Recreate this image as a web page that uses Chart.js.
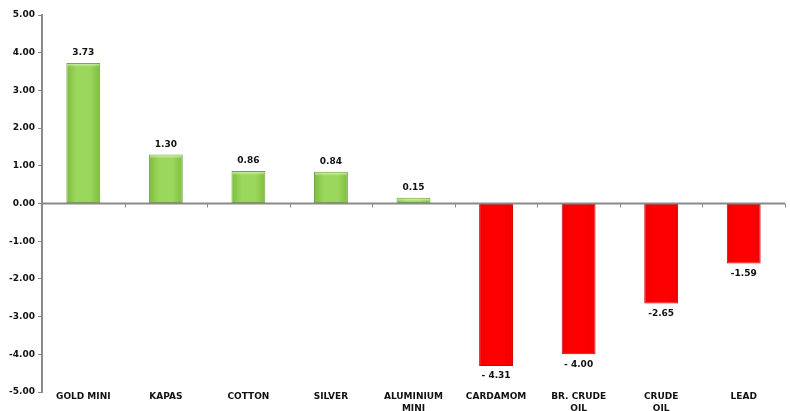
<!DOCTYPE html>
<html>
<head>
<meta charset="utf-8">
<script src="https://cdn.jsdelivr.net/npm/chart.js@4/dist/chart.umd.min.js"></script>
<style>
  html, body { margin: 0; padding: 0; background: #ffffff; }
  #wrap { width: 790px; height: 411px; position: relative; }
</style>
</head>
<body>
<div id="wrap"><canvas id="chart"></canvas></div>
<script>
// Commodity price change (%)
const categories = [
  'GOLD MINI', 'KAPAS', 'COTTON', 'SILVER', ['ALUMINIUM', 'MINI'],
  'CARDAMOM', ['BR. CRUDE', 'OIL'], ['CRUDE', 'OIL'], 'LEAD'
];
const changes = [3.73, 1.30, 0.86, 0.84, 0.15, -4.31, -4.00, -2.65, -1.59];
const valueLabels = ['3.73', '1.30', '0.86', '0.84', '0.15', '- 4.31', '- 4.00', '-2.65', '-1.59'];
const yMin = -5;
const yMax = 5;

const FONT = { family: '"DejaVu Sans", sans-serif', size: 9, weight: 'bold' };
const AXIS_GREY = '#8a8a8a';
const BAR_PCT = 0.41;

function barGradient(c, up) {
  const flat = up ? '#92d050' : '#ff0000';
  const chart = c.chart;
  const x = chart.scales && chart.scales.x;
  if (!x || c.dataIndex === undefined) return flat;
  const w = (x.width / categories.length) * BAR_PCT;
  const cx = x.getPixelForValue(c.dataIndex);
  if (!isFinite(cx) || !isFinite(w) || w <= 0) return flat;
  const g = chart.ctx.createLinearGradient(cx - w / 2, 0, cx + w / 2, 0);
  if (up) {
    g.addColorStop(0, '#7dbd3f');
    g.addColorStop(0.3, '#9bd75c');
    g.addColorStop(0.7, '#9bd75c');
    g.addColorStop(1, '#7dbd3f');
  } else {
    g.addColorStop(0, '#f00000');
    g.addColorStop(0.3, '#ff0000');
    g.addColorStop(0.7, '#ff0000');
    g.addColorStop(1, '#f00000');
  }
  return g;
}

// Light band along the top edge of the rising bars
const barHighlight = {
  id: 'barHighlight',
  afterDatasetsDraw(chart) {
    const { ctx } = chart;
    const meta = chart.getDatasetMeta(0);
    ctx.save();
    meta.data.forEach((bar, i) => {
      if (changes[i] < 0) return;
      const h = Math.min(4, bar.base - bar.y - 1);
      if (h <= 0) return;
      const g = ctx.createLinearGradient(0, bar.y, 0, bar.y + h);
      g.addColorStop(0, 'rgba(230,250,200,0.9)');
      g.addColorStop(1, 'rgba(230,250,200,0)');
      ctx.fillStyle = g;
      ctx.fillRect(bar.x - bar.width / 2 + 1, bar.y + 1, bar.width - 2, h);
    });
    ctx.restore();
  }
};

// Zero baseline with small category-boundary ticks, drawn over the bars
const zeroAxis = {
  id: 'zeroAxis',
  afterDatasetsDraw(chart) {
    const { ctx, chartArea, scales: { x, y } } = chart;
    const y0 = y.getPixelForValue(0);
    const step = x.width / categories.length;
    ctx.save();
    ctx.strokeStyle = AXIS_GREY;
    ctx.lineWidth = 2;
    ctx.beginPath();
    ctx.moveTo(chartArea.left, y0);
    ctx.lineTo(chartArea.right, y0);
    ctx.stroke();
    ctx.lineWidth = 1;
    for (let i = 0; i < categories.length; i++) {
      const bx = Math.round(x.getPixelForValue(i) + step / 2) + 0.5;
      ctx.beginPath();
      ctx.moveTo(bx, y0);
      ctx.lineTo(bx, y0 + 4);
      ctx.stroke();
    }
    ctx.restore();
  }
};

// Value labels above positive bars and below negative bars
const valueLabelPlugin = {
  id: 'valueLabels',
  afterDatasetsDraw(chart) {
    const { ctx } = chart;
    const meta = chart.getDatasetMeta(0);
    ctx.save();
    ctx.font = 'bold 9px "DejaVu Sans", sans-serif';
    ctx.fillStyle = '#111111';
    ctx.textAlign = 'center';
    ctx.textBaseline = 'middle';
    meta.data.forEach((bar, i) => {
      const v = changes[i];
      const ty = v >= 0 ? bar.y - 10 : bar.y + 10;
      ctx.fillText(valueLabels[i], bar.x, ty);
    });
    ctx.restore();
  }
};

new Chart(document.getElementById('chart'), {
  type: 'bar',
  data: {
    labels: categories,
    datasets: [{
      data: changes,
      backgroundColor: c => barGradient(c, changes[c.dataIndex] >= 0),
      borderColor: c => changes[c.dataIndex] >= 0 ? '#6fa53a' : '#d40000',
      borderWidth: 1,
      borderSkipped: false,
      categoryPercentage: 1,
      barPercentage: BAR_PCT
    }]
  },
  options: {
    responsive: true,
    maintainAspectRatio: false,
    animation: false,
    devicePixelRatio: 1,
    layout: { padding: { top: 15, right: 5, left: 0, bottom: 0 } },
    plugins: {
      legend: { display: false },
      tooltip: { enabled: false }
    },
    scales: {
      x: {
        grid: { display: false, drawTicks: false },
        border: { display: false },
        ticks: {
          color: '#111111',
          font: { ...FONT, lineHeight: 1.33 },
          padding: -1,
          maxRotation: 0,
          autoSkip: false
        },
        afterFit(scale) { scale.height = 19; }
      },
      y: {
        min: yMin,
        max: yMax,
        ticks: {
          stepSize: 1,
          color: '#111111',
          font: FONT,
          padding: 3,
          callback: v => v.toFixed(2)
        },
        grid: {
          drawOnChartArea: false,
          drawTicks: true,
          tickLength: 4,
          tickColor: AXIS_GREY
        },
        border: { color: AXIS_GREY, width: 2 },
        afterFit(scale) { scale.width = 42; }
      }
    }
  },
  plugins: [barHighlight, zeroAxis, valueLabelPlugin]
});
</script>
</body>
</html>
